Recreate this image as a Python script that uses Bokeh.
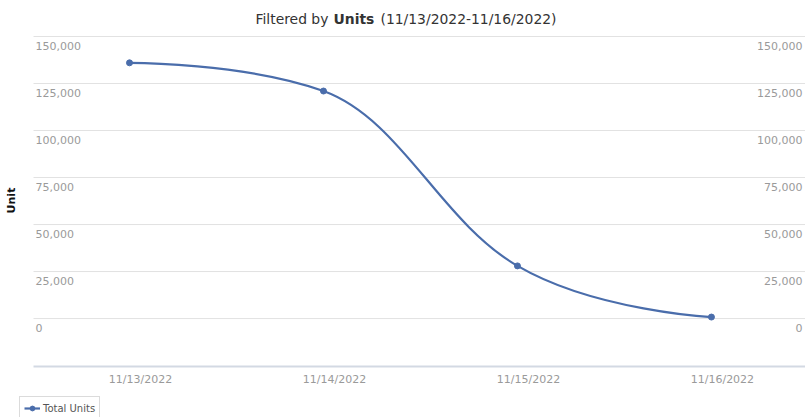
import math
from bokeh.plotting import figure
from bokeh.models import (ColumnDataSource, LabelSet, Label, Legend, LegendItem)
from bokeh.core.properties import value
from bokeh.embed import file_html
from bokeh.resources import INLINE

# ---- data ----
dates = ["11/13/2022", "11/14/2022", "11/15/2022", "11/16/2022"]
total_units = [136000, 121000, 28000, 800]
y_ticks = [0, 25000, 50000, 75000, 100000, 125000, 150000]
y_tick_labels = ["0", "25,000", "50,000", "75,000", "100,000", "125,000", "150,000"]
series_name = "Total Units"
title_parts = ["Filtered by", "Units", "(11/13/2022-11/16/2022)"]
y_axis_title = "Unit"

# ---- style / layout ----
LINE = "#4a6dab"
GRID = "#e2e2e2"
AXIS = "#d3d9e3"
TICKTXT = "#9a9a9a"
FONT = "DejaVu Sans"
W, H = 805, 417
# plot area (pixels) and its data extent
PX_L, PX_R, PX_T, PX_B = 33, 805, 36, 366
XA0, XA1 = -0.495, 3.485
YA0, YA1 = -25500, 150000
sx = (PX_R - PX_L) / (XA1 - XA0)
sy = (PX_B - PX_T) / (YA1 - YA0)
X_START, X_END = XA0 - PX_L / sx, XA1 + (W - PX_R) / sx
Y_START, Y_END = YA0 - (H - PX_B) / sy, YA1 + PX_T / sy

xs = list(range(len(dates)))

p = figure(width=W, height=H, output_backend="svg", toolbar_location=None,
           x_range=(X_START, X_END), y_range=(Y_START, Y_END),
           x_axis_location=None, y_axis_location=None,
           min_border=0, min_border_left=0, min_border_right=0,
           min_border_top=0, min_border_bottom=0)
p.outline_line_color = None
p.background_fill_color = "white"
p.border_fill_color = "white"
p.xgrid.visible = False
p.ygrid.visible = False

# horizontal grid lines
p.segment(x0=[XA0] * len(y_ticks), x1=[XA1] * len(y_ticks), y0=y_ticks, y1=y_ticks,
          line_color=GRID, line_width=1)
# x axis line
p.segment(x0=[XA0], x1=[XA1], y0=[YA0], y1=[YA0], line_color=AXIS, line_width=2)

# spline (Highcharts-style bezier control points)
def spline_controls(xv, yv, smoothing=1.5):
    n = len(xv)
    d = smoothing + 1
    lc, rc = [], []
    for i in range(n):
        x, y = xv[i], yv[i]
        if 0 < i < n - 1:
            lx, ly, nx, ny = xv[i - 1], yv[i - 1], xv[i + 1], yv[i + 1]
            lcx, lcy = (smoothing * x + lx) / d, (smoothing * y + ly) / d
            rcx, rcy = (smoothing * x + nx) / d, (smoothing * y + ny) / d
            if rcx != lcx:
                corr = ((rcy - lcy) * (rcx - x)) / (rcx - lcx) + y - rcy
                lcy += corr
                rcy += corr
            if lcy > ly and lcy > y:
                lcy = max(ly, y); rcy = 2 * y - lcy
            elif lcy < ly and lcy < y:
                lcy = min(ly, y); rcy = 2 * y - lcy
            if rcy > ny and rcy > y:
                rcy = max(ny, y); lcy = 2 * y - rcy
            elif rcy < ny and rcy < y:
                rcy = min(ny, y); lcy = 2 * y - rcy
            lc.append((lcx, lcy)); rc.append((rcx, rcy))
        else:
            lc.append((x, y)); rc.append((x, y))
    return lc, rc

lc, rc = spline_controls(xs, total_units)
seg = dict(x0=xs[:-1], y0=total_units[:-1], x1=xs[1:], y1=total_units[1:],
           cx0=[c[0] for c in rc[:-1]], cy0=[c[1] for c in rc[:-1]],
           cx1=[c[0] for c in lc[1:]], cy1=[c[1] for c in lc[1:]])
curve = p.bezier(x0="x0", y0="y0", x1="x1", y1="y1", cx0="cx0", cy0="cy0", cx1="cx1", cy1="cy1",
                 source=ColumnDataSource(seg), line_color=LINE, line_width=2.2)
pts = p.scatter(xs, total_units, size=6, color=LINE)

# y tick labels inside the plot, under the grid lines, both sides
ysrc = ColumnDataSource(dict(y=y_ticks, t=y_tick_labels,
                             xl=[XA0] * len(y_ticks), xr=[XA1] * len(y_ticks)))
p.add_layout(LabelSet(x="xl", y="y", text="t", source=ysrc, x_offset=2, y_offset=-5,
                      text_align="left", text_baseline="top", text_font=value(FONT),
                      text_font_size="11px", text_color=TICKTXT))
p.add_layout(LabelSet(x="xr", y="y", text="t", source=ysrc, x_offset=-3, y_offset=-5,
                      text_align="right", text_baseline="top", text_font=value(FONT),
                      text_font_size="11px", text_color=TICKTXT))

# x tick labels under the axis line
xsrc = ColumnDataSource(dict(x=xs, y=[YA0] * len(xs), t=dates))
p.add_layout(LabelSet(x="x", y="y", text="t", source=xsrc, x_offset=11, y_offset=-13,
                      text_align="center", text_baseline="middle", text_font=value(FONT),
                      text_font_size="11px", text_color=TICKTXT))

# y axis title
p.add_layout(Label(x=11, y=H - 200, x_units="screen", y_units="screen", text=y_axis_title,
                   angle=math.pi / 2, text_align="center", text_baseline="middle",
                   text_font=FONT, text_font_size="11px", text_font_style="bold",
                   text_color="#111111"))

# title in three parts
for txt, xx, style in zip(title_parts, [255, 333, 380], ["normal", "bold", "normal"]):
    p.add_layout(Label(x=xx, y=H - 18, x_units="screen", y_units="screen", text=txt,
                       text_align="left", text_baseline="middle", text_font=FONT,
                       text_font_size="13.9px", text_font_style=style, text_color="#333333"))

legend = Legend(items=[LegendItem(label=series_name, renderers=[curve, pts])],
                location=(19, -3), orientation="horizontal",
                padding=4, margin=0, spacing=0, label_standoff=3,
                glyph_width=16, glyph_height=12, label_height=14,
                label_text_font=FONT, label_text_font_size="10px", label_text_color="#555555",
                border_line_color="#b8b8b8", border_line_width=1, background_fill_color="white")
p.add_layout(legend, "center")

open("out.html", "w").write(file_html(p, INLINE))
